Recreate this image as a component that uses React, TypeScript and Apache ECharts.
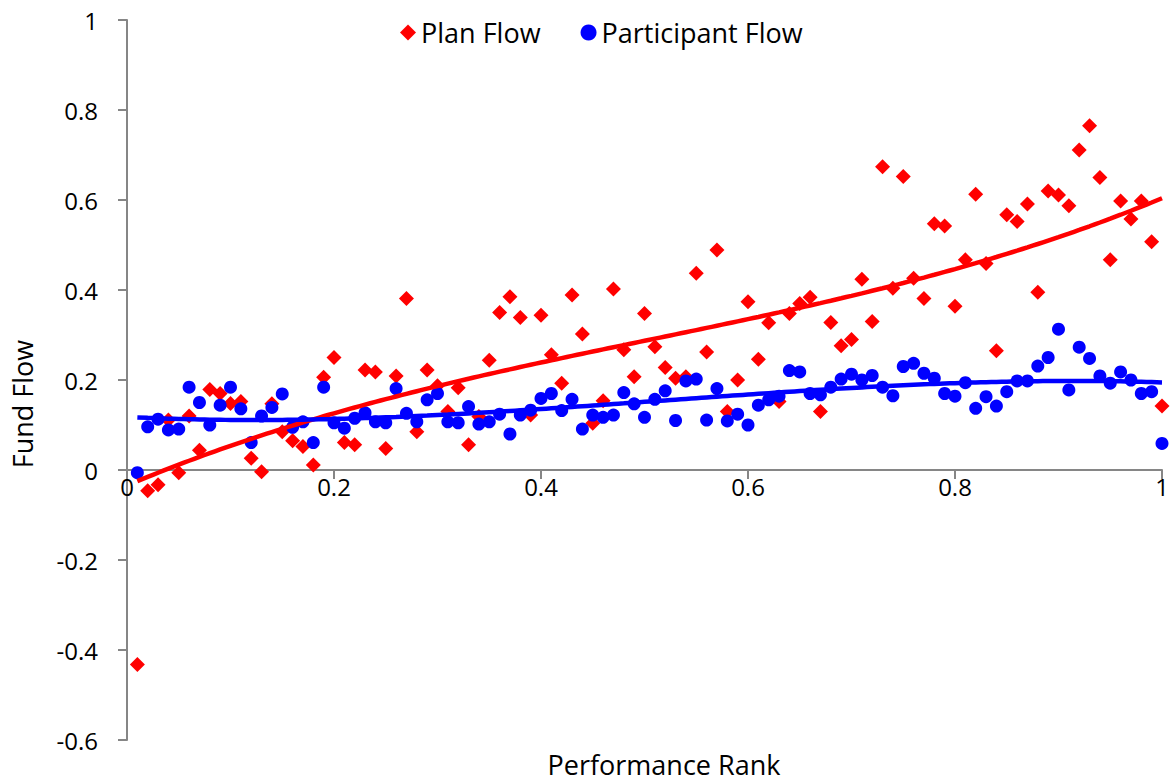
import React, { useEffect, useRef } from "react";
import * as echarts from "echarts";

const performanceRank = [
  0.01, 0.02, 0.03, 0.04, 0.05, 0.06, 0.07, 0.08, 0.09, 0.1,
  0.11, 0.12, 0.13, 0.14, 0.15, 0.16, 0.17, 0.18, 0.19, 0.2,
  0.21, 0.22, 0.23, 0.24, 0.25, 0.26, 0.27, 0.28, 0.29, 0.3,
  0.31, 0.32, 0.33, 0.34, 0.35, 0.36, 0.37, 0.38, 0.39, 0.4,
  0.41, 0.42, 0.43, 0.44, 0.45, 0.46, 0.47, 0.48, 0.49, 0.5,
  0.51, 0.52, 0.53, 0.54, 0.55, 0.56, 0.57, 0.58, 0.59, 0.6,
  0.61, 0.62, 0.63, 0.64, 0.65, 0.66, 0.67, 0.68, 0.69, 0.7,
  0.71, 0.72, 0.73, 0.74, 0.75, 0.76, 0.77, 0.78, 0.79, 0.8,
  0.81, 0.82, 0.83, 0.84, 0.85, 0.86, 0.87, 0.88, 0.89, 0.9,
  0.91, 0.92, 0.93, 0.94, 0.95, 0.96, 0.97, 0.98, 0.99, 1.0,
];

const planFlow = [
  -0.432, -0.046, -0.033, 0.111, -0.006, 0.12, 0.044, 0.179, 0.17, 0.148,
  0.152, 0.026, -0.004, 0.147, 0.085, 0.065, 0.052, 0.011, 0.206, 0.25,
  0.061, 0.056, 0.222, 0.218, 0.048, 0.209, 0.381, 0.085, 0.222, 0.187,
  0.13, 0.183, 0.056, 0.119, 0.244, 0.35, 0.385, 0.339, 0.122, 0.344,
  0.256, 0.193, 0.389, 0.302, 0.104, 0.154, 0.402, 0.267, 0.207, 0.348,
  0.274, 0.228, 0.204, 0.207, 0.437, 0.262, 0.489, 0.13, 0.2, 0.374,
  0.246, 0.327, 0.152, 0.348, 0.37, 0.384, 0.13, 0.328, 0.276, 0.29,
  0.424, 0.33, 0.674, 0.404, 0.652, 0.426, 0.381, 0.547, 0.542, 0.364,
  0.467, 0.613, 0.459, 0.265, 0.567, 0.552, 0.591, 0.395, 0.62, 0.611,
  0.587, 0.711, 0.765, 0.65, 0.467, 0.598, 0.558, 0.598, 0.507, 0.142,
];

const participantFlow = [
  -0.006, 0.096, 0.113, 0.089, 0.091, 0.184, 0.15, 0.1, 0.144, 0.184,
  0.136, 0.061, 0.12, 0.139, 0.169, 0.095, 0.107, 0.061, 0.184, 0.105,
  0.093, 0.115, 0.127, 0.107, 0.105, 0.181, 0.126, 0.107, 0.156, 0.17,
  0.107, 0.105, 0.141, 0.102, 0.107, 0.124, 0.08, 0.122, 0.133, 0.159,
  0.17, 0.132, 0.157, 0.091, 0.122, 0.117, 0.122, 0.172, 0.147, 0.117,
  0.157, 0.176, 0.11, 0.198, 0.202, 0.111, 0.181, 0.109, 0.124, 0.1,
  0.144, 0.156, 0.164, 0.221, 0.218, 0.17, 0.167, 0.184, 0.202, 0.213,
  0.2, 0.21, 0.184, 0.165, 0.23, 0.237, 0.215, 0.204, 0.17, 0.164,
  0.194, 0.137, 0.163, 0.142, 0.174, 0.198, 0.198, 0.231, 0.25, 0.313,
  0.178, 0.273, 0.248, 0.209, 0.193, 0.218, 0.2, 0.17, 0.174, 0.059,
];

const seriesNames = ["Plan Flow", "Participant Flow"];
const xAxisTitle = "Performance Rank";
const yAxisTitle = "Fund Flow";

// Least-squares cubic polynomial fit (like a spreadsheet polynomial trendline)
function cubicFit(xs: number[], ys: number[]): number[] {
  const n = 4;
  const A: number[][] = Array.from({ length: n }, () => new Array(n + 1).fill(0));
  for (let k = 0; k < xs.length; k++) {
    const x = xs[k];
    const y = ys[k];
    const p = [1, x, x * x, x * x * x];
    for (let i = 0; i < n; i++) {
      for (let j = 0; j < n; j++) A[i][j] += p[i] * p[j];
      A[i][n] += p[i] * y;
    }
  }
  for (let i = 0; i < n; i++) {
    let m = i;
    for (let r = i + 1; r < n; r++) if (Math.abs(A[r][i]) > Math.abs(A[m][i])) m = r;
    const t = A[i];
    A[i] = A[m];
    A[m] = t;
    for (let r = 0; r < n; r++) {
      if (r === i) continue;
      const f = A[r][i] / A[i][i];
      for (let c = i; c <= n; c++) A[r][c] -= f * A[i][c];
    }
  }
  return A.map((row, i) => row[n] / row[i]);
}

function trend(xs: number[], ys: number[]): number[][] {
  const c = cubicFit(xs, ys);
  return xs.map((x) => [x, c[0] + c[1] * x + c[2] * x * x + c[3] * x * x * x]);
}

const FONT = "'Open Sans', sans-serif";
const fmt = (v: number) => String(+v.toFixed(1));

const Y_MIN = -0.6;
const Y_MAX = 1;
const GRID_TOP = 20;
const GRID_BOTTOM = 42;
const HEIGHT = 782;

export default function App() {
  const ref = useRef<HTMLDivElement>(null);
  useEffect(() => {
    if (!ref.current) return;
    const chart = echarts.init(ref.current, undefined, { renderer: "svg" });
    const planPts = performanceRank.map((x, i) => [x, planFlow[i]]);
    const partPts = performanceRank.map((x, i) => [x, participantFlow[i]]);
    // place the x axis at y = 0 (move it up from the grid's bottom edge)
    const gridH = HEIGHT - GRID_TOP - GRID_BOTTOM;
    const zeroOffset = -gridH * (0 - Y_MIN) / (Y_MAX - Y_MIN);
    const axisLine = { show: true, onZero: false, lineStyle: { color: "#868686", width: 2 } };
    const axisTick = { show: true, inside: false, length: 9, lineStyle: { color: "#868686", width: 2 } };
    chart.setOption({
      animation: false,
      backgroundColor: "#ffffff",
      grid: { left: 127, right: 12, top: GRID_TOP, bottom: GRID_BOTTOM, containLabel: false },
      legend: {
        left: 395,
        top: 14,
        itemGap: 40,
        itemWidth: 16,
        itemHeight: 16,
        textStyle: { fontFamily: FONT, fontSize: 27, color: "#000" },
        data: [
          { name: seriesNames[0], icon: "diamond", itemStyle: { color: "#ff0000" } },
          { name: seriesNames[1], icon: "circle", itemStyle: { color: "#0000ff" } },
        ],
      },
      xAxis: {
        type: "value",
        min: 0,
        max: 1,
        interval: 0.2,
        offset: zeroOffset,
        axisLine,
        axisTick,
        axisLabel: { formatter: fmt, fontFamily: FONT, fontSize: 24, color: "#000", margin: 4 },
        splitLine: { show: false },
      },
      yAxis: {
        type: "value",
        min: Y_MIN,
        max: Y_MAX,
        interval: 0.2,
        axisLine,
        axisTick,
        axisLabel: { formatter: fmt, fontFamily: FONT, fontSize: 24, color: "#000", margin: 29 },
        splitLine: { show: false },
      },
      graphic: [
        {
          type: "text",
          x: 22,
          y: 404,
          rotation: Math.PI / 2,
          style: {
            text: yAxisTitle,
            font: `27px ${FONT}`,
            fill: "#000",
            align: "center",
            verticalAlign: "middle",
          },
        },
        {
          type: "text",
          x: 664,
          y: 764,
          style: {
            text: xAxisTitle,
            font: `27px ${FONT}`,
            fill: "#000",
            align: "center",
            verticalAlign: "middle",
          },
        },
      ],
      series: [
        {
          name: seriesNames[0],
          type: "scatter",
          data: planPts,
          symbol: "diamond",
          symbolSize: 15,
          itemStyle: { color: "#ff0000", opacity: 1 },
          z: 2,
        },
        {
          name: seriesNames[1],
          type: "scatter",
          data: partPts,
          symbol: "circle",
          symbolSize: 13,
          itemStyle: { color: "#0000ff", opacity: 1 },
          z: 3,
        },
        {
          name: "Plan Flow trend",
          type: "line",
          data: trend(performanceRank, planFlow),
          showSymbol: false,
          symbol: "none",
          smooth: true,
          lineStyle: { color: "#ff0000", width: 4.5 },
          z: 4,
        },
        {
          name: "Participant Flow trend",
          type: "line",
          data: trend(performanceRank, participantFlow),
          showSymbol: false,
          symbol: "none",
          smooth: true,
          lineStyle: { color: "#0000ff", width: 4.5 },
          z: 5,
        },
      ],
    });
    return () => chart.dispose();
  }, []);
  return (
    <div
      ref={ref}
      style={{ position: "fixed", left: 0, top: 0, width: 1174, height: 782, background: "#fff" }}
    />
  );
}
